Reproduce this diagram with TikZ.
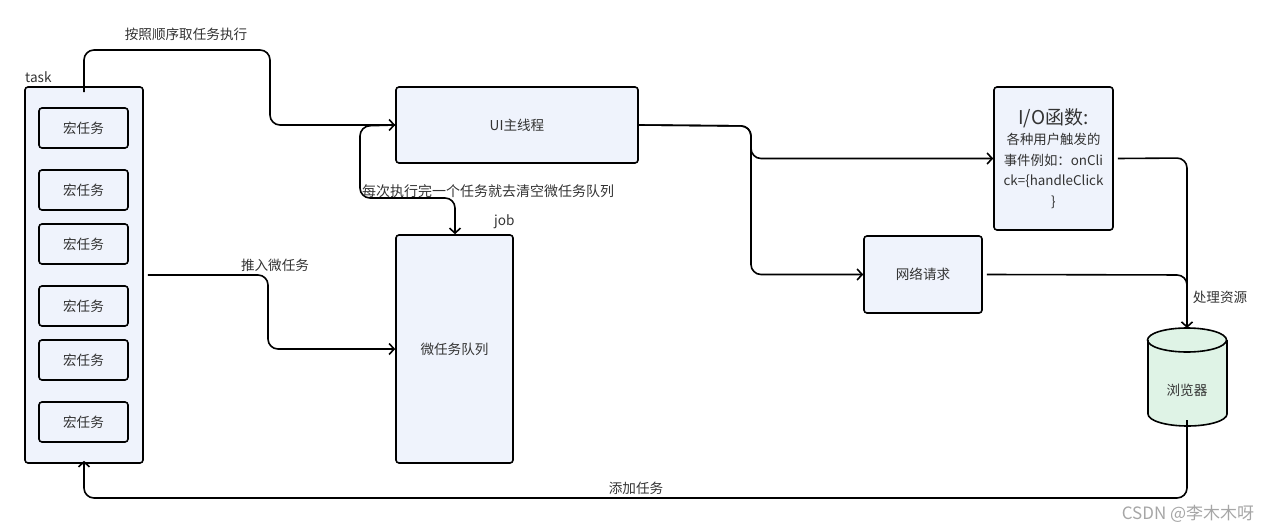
\documentclass[tikz,border=0pt]{standalone}
\usepackage{fontspec}
\setmainfont{Noto Sans CJK SC}
\usetikzlibrary{arrows.meta}
\definecolor{boxfill}{HTML}{EFF3FC}
\definecolor{cylfill}{HTML}{DFF3E6}
\definecolor{txt}{HTML}{333333}
\tikzset{
  box/.style={draw=black, line width=1.6pt, rounded corners=3pt, fill=boxfill, text=txt, font=\fontsize{13.6}{16}\selectfont, align=center, inner sep=2pt},
  conn/.style={draw=black, line width=1.6pt, rounded corners=10pt},
  arr/.style={conn, -{Straight Barb[length=5pt,width=11pt,line width=1.6pt]}},
  lbl/.style={text=txt, font=\fontsize{13.6}{16}\selectfont, inner sep=0pt},
}
\begin{document}
\begin{tikzpicture}[x=1pt,y=-1pt]
\useasboundingbox (0,0) rectangle (1272,532);
% task container
\node[box, minimum width=118pt, minimum height=376pt] (task) at (84,275) {};
\node[lbl, anchor=west] (tasklbl) at (25,77) {task};
\foreach \n/\y in {m1/128, m2/190, m3/244, m4/306, m5/360, m6/422}
  \node[box, minimum width=89pt, minimum height=40pt] (\n) at (83.5,\y) {宏任务};
% main thread
\node[box, minimum width=242pt, minimum height=76pt] (ui) at (517,125) {UI主线程};
% job queue
\node[box, minimum width=117pt, minimum height=228pt] (job) at (454.5,349) {微任务队列};
\node[lbl, anchor=west] (joblbl) at (494,222) {job};
% I/O
\node[box, minimum width=119pt, minimum height=143pt, text width=114pt, font=\fontsize{13.4}{20.5}\selectfont] (io) at (1053.5,158.5)
  {{\fontsize{19}{22}\selectfont I/O函数:}\\各种用户触发的\\事件例如：onCli\\ck=\{handleClick\\\}};
% network
\node[box, minimum width=118pt, minimum height=77pt] (net) at (923,274.5) {网络请求};
% cylinder (browser)
\fill[cylfill] (1148,340) -- (1148,414) arc[start angle=180,end angle=0,x radius=39.5,y radius=12]
  -- (1227,340) arc[start angle=0,end angle=-180,x radius=39.5,y radius=12] -- cycle;
\draw[line width=1.6pt] (1148,340) -- (1148,414) arc[start angle=180,end angle=0,x radius=39.5,y radius=12] -- (1227,340);
\draw[line width=1.6pt] (1187,340) ellipse[x radius=39.5,y radius=12];
\node[lbl] (browser) at (1187,390) {浏览器};
\coordinate (cyltop) at (1187,328);
\coordinate (cylbot) at (1187,426);
% connectors
\draw[arr] ([yshift=-6pt]task.north) |- (270,50) |- (ui.west);
\node[lbl] (l1) at (186,34) {按照顺序取任务执行};
\draw[arr] (ui.west) -- (360,126) |- (455,198) -- (job.north -| 455,0);
\node[lbl, anchor=west, font=\fontsize{14}{16}\selectfont] (l2) at (362,191) {每次执行完一个任务就去清空微任务队列};
\draw[arr] ([xshift=4pt]task.east) -- (268,275) |- (job.west);
\node[lbl] (l3) at (275,265) {推入微任务};
\draw[arr] (ui.east) -- (751,126) |- (io.west);
\draw[arr] (ui.east) -- (751,126) |- (net.west);
\draw[arr] ([xshift=4pt]io.east) -- (1187,158) -- (cyltop);
\draw[conn] ([xshift=4pt]net.east) -- (1187,275) -- (1187,300);
\node[lbl] (l4) at (1220,297) {处理资源};
\draw[arr] ([yshift=6pt]cylbot) -- (1187,498) -| ([yshift=3pt]task.south);
\node[lbl] (l5) at (636,488) {添加任务};
\node[text=gray!70, font=\fontsize{17}{19}\selectfont, inner sep=0pt] (wm) at (1188,514) {CSDN @李木木呀};
\end{tikzpicture}
\end{document}
